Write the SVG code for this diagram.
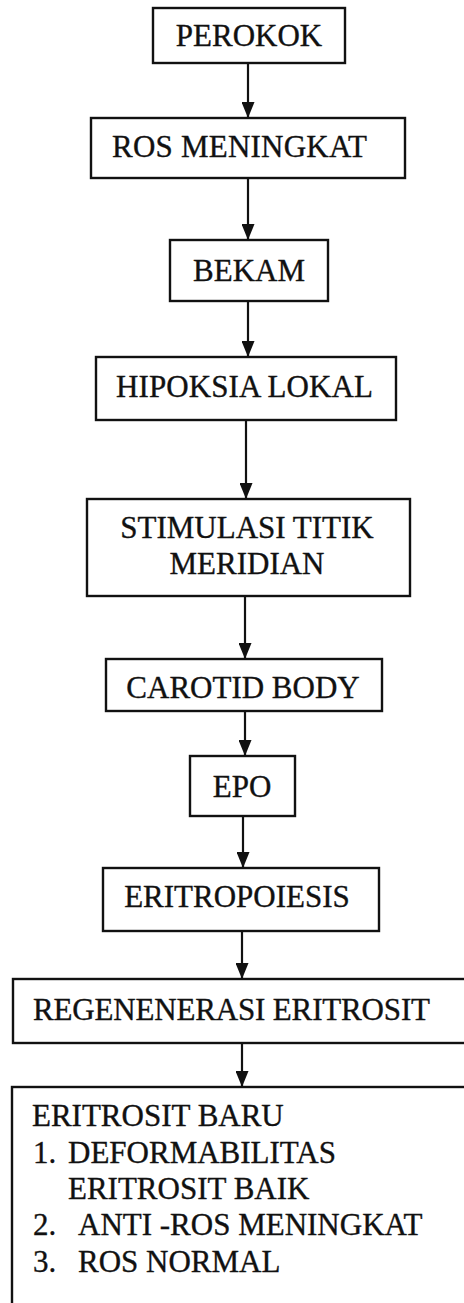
<svg xmlns="http://www.w3.org/2000/svg" width="464" height="1303" viewBox="0 0 464 1303">
<style>
  .box { fill: #fff; stroke: #111; stroke-width: 2.4; }
  text { font-family: "Liberation Serif", "Times New Roman", "DejaVu Serif", serif; font-size: 31px; fill: #111; stroke: #111; stroke-width: 0.35; }
  .c { text-anchor: middle; }
  .con line { stroke: #111; stroke-width: 2.2; }
</style>
<defs>
  <marker id="ah" viewBox="0 0 16 13" refX="16" refY="6.5" markerWidth="16" markerHeight="13" markerUnits="userSpaceOnUse" orient="auto">
    <path d="M0,0 L16,6.5 L0,13 Z" fill="#111"/>
  </marker>
</defs>
<rect width="464" height="1303" fill="#fff"/>

<g id="n1"><rect class="box" x="153" y="8" width="192" height="55"/><text class="c" x="249" y="46" font-family="Liberation Serif, serif">PEROKOK</text></g>
<g id="n2"><rect class="box" x="91" y="118" width="314" height="60"/><text x="112" y="157" textLength="255">ROS MENINGKAT</text></g>
<g id="n3"><rect class="box" x="170" y="240" width="158" height="61"/><text class="c" x="249" y="281">BEKAM</text></g>
<g id="n4"><rect class="box" x="96" y="357" width="300" height="63"/><text x="116" y="397" textLength="257">HIPOKSIA LOKAL</text></g>
<g id="n5"><rect class="box" x="87" y="499" width="323" height="97"/><text class="c" x="247" y="538">STIMULASI TITIK</text><text class="c" x="247" y="574">MERIDIAN</text></g>
<g id="n6"><rect class="box" x="106" y="659" width="276" height="52"/><text class="c" x="243" y="698">CAROTID BODY</text></g>
<g id="n7"><rect class="box" x="190" y="756" width="105" height="60"/><text class="c" x="242" y="797">EPO</text></g>
<g id="n8"><rect class="box" x="103" y="868" width="276" height="63"/><text class="c" x="237" y="907">ERITROPOIESIS</text></g>
<g id="n9"><rect class="box" x="13" y="979" width="460" height="64"/><text x="33" y="1020" textLength="397">REGENENERASI ERITROSIT</text></g>
<g id="n10"><rect class="box" x="12" y="1087" width="470" height="240"/>
  <text x="32" y="1126">ERITROSIT BARU</text>
  <text x="33" y="1163">1.</text><text x="68" y="1163">DEFORMABILITAS</text>
  <text x="68" y="1199">ERITROSIT BAIK</text>
  <text x="33" y="1235">2.</text><text x="78" y="1235">ANTI -ROS MENINGKAT</text>
  <text x="33" y="1272">3.</text><text x="78" y="1272">ROS NORMAL</text>
</g>

<g id="connectors" class="con">
  <line x1="248" y1="63" x2="248" y2="118" marker-end="url(#ah)"/>
  <line x1="248" y1="178" x2="248" y2="240" marker-end="url(#ah)"/>
  <line x1="248" y1="301" x2="248" y2="357" marker-end="url(#ah)"/>
  <line x1="246" y1="420" x2="246" y2="499" marker-end="url(#ah)"/>
  <line x1="245" y1="596" x2="245" y2="659" marker-end="url(#ah)"/>
  <line x1="245" y1="711" x2="245" y2="756" marker-end="url(#ah)"/>
  <line x1="243" y1="816" x2="243" y2="868" marker-end="url(#ah)"/>
  <line x1="242" y1="931" x2="242" y2="979" marker-end="url(#ah)"/>
  <line x1="242" y1="1043" x2="242" y2="1087" marker-end="url(#ah)"/>
</g>
</svg>
